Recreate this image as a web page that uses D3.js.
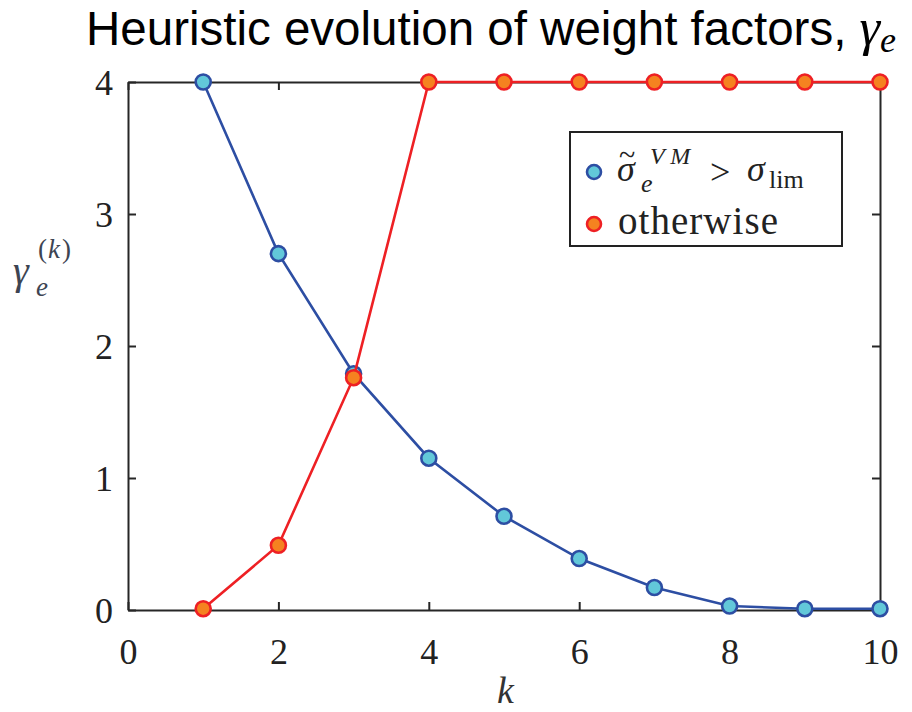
<!DOCTYPE html>
<html>
<head>
<meta charset="utf-8">
<script src="https://cdn.jsdelivr.net/npm/d3@7"></script>
<style>
  html, body { margin: 0; padding: 0; background: #fff; }
  svg { display: block; }
</style>
</head>
<body>
<svg id="chart" width="912" height="712"></svg>
<script>
// Iterations k and the two weight-factor histories
const iterations = [1, 2, 3, 4, 5, 6, 7, 8, 9, 10];
const gammaAboveLimit = [4, 2.70, 1.79, 1.15, 0.71, 0.39, 0.17, 0.03, 0.01, 0.01];
const gammaOtherwise = [0.01, 0.49, 1.76, 4, 4, 4, 4, 4, 4, 4];
const xTicks = [0, 2, 4, 6, 8, 10];
const yTicks = [0, 1, 2, 3, 4];

const svg = d3.select("#chart");
const margin = { left: 128, right: 32, top: 82, bottom: 102 };
const W = 912, H = 712;

const x = d3.scaleLinear().domain([0, 10]).range([margin.left, W - margin.right]);
const y = d3.scaleLinear().domain([0, 4]).range([H - margin.bottom, margin.top]);

const serif = "'Liberation Serif', 'DejaVu Serif', serif";
const tickLen = 8;
const tickFont = 36;

// Title
const title = svg.append("text")
  .attr("x", 86).attr("y", 45)
  .attr("font-family", "'Liberation Sans', Arial, sans-serif")
  .attr("font-size", 47.5)
  .attr("fill", "#000");
title.append("tspan").text("Heuristic evolution of weight factors, ");
title.append("tspan").attr("font-family", serif).attr("font-style", "italic")
  .attr("font-size", 52).text("γ");
title.append("tspan").attr("font-family", serif).attr("font-style", "italic")
  .attr("font-size", 36).attr("dy", 7).text("e");

// Axes (box with inward ticks on all four sides)
const axisColor = "#262626";
const gAxes = svg.append("g");
const fmt = d3.format("d");

const axBottom = gAxes.append("g").attr("transform", `translate(0,${y(0)})`)
  .call(d3.axisBottom(x).tickValues(xTicks).tickFormat(fmt).tickSizeInner(-tickLen).tickSizeOuter(0).tickPadding(28));
const axTop = gAxes.append("g").attr("transform", `translate(0,${y(4)})`)
  .call(d3.axisTop(x).tickValues(xTicks).tickSizeInner(-tickLen).tickSizeOuter(0).tickFormat(""));
const axLeft = gAxes.append("g").attr("transform", `translate(${x(0)},0)`)
  .call(d3.axisLeft(y).tickValues(yTicks).tickFormat(fmt).tickSizeInner(-tickLen).tickSizeOuter(0).tickPadding(15));
const axRight = gAxes.append("g").attr("transform", `translate(${x(10)},0)`)
  .call(d3.axisRight(y).tickValues(yTicks).tickSizeInner(-tickLen).tickSizeOuter(0).tickFormat(""));

[axBottom, axTop, axLeft, axRight].forEach(g => {
  g.select(".domain").attr("stroke", axisColor).attr("stroke-width", 2);
  g.selectAll(".tick line").attr("stroke", axisColor).attr("stroke-width", 2);
  g.selectAll(".tick text").attr("font-family", serif).attr("font-size", tickFont).attr("fill", "#222");
});
axBottom.selectAll(".tick text").attr("dy", "0.71em");
axLeft.selectAll(".tick text").attr("dy", "0.34em");

// Axis labels
svg.append("text")
  .attr("x", 497).attr("y", 703)
  .attr("font-family", serif).attr("font-style", "italic").attr("font-size", 38)
  .attr("fill", "#333").text("k");

// gamma_e^(k), built as one text with positioned pieces
const yl = svg.append("text").attr("font-family", serif).attr("font-style", "italic").attr("fill", "#3d4452");
yl.append("tspan").attr("x", 13).attr("y", 284).attr("font-size", 40).text("γ");
yl.append("tspan").attr("x", 36).attr("y", 296).attr("font-size", 27).text("e");
yl.append("tspan").attr("x", 38).attr("y", 258).attr("font-size", 27).attr("font-style", "normal").text("(");
yl.append("tspan").attr("x", 48).attr("y", 258).attr("font-size", 27).text("k");
yl.append("tspan").attr("x", 62).attr("y", 258).attr("font-size", 27).attr("font-style", "normal").text(")");

// Series
const series = [
  { values: gammaAboveLimit, line: "#2d4ea3", fill: "#62c8d9" },
  { values: gammaOtherwise, line: "#ee2024", fill: "#f58220" }
];

const line = d3.line().x(d => x(d[0])).y(d => y(d[1]));

series.forEach(s => {
  const pts = iterations.map((k, i) => [k, s.values[i]]);
  const g = svg.append("g");
  g.append("path").datum(pts)
    .attr("d", line).attr("fill", "none")
    .attr("stroke", s.line).attr("stroke-width", 2.6);
  g.selectAll("circle").data(pts).join("circle")
    .attr("cx", d => x(d[0])).attr("cy", d => y(d[1])).attr("r", 7.5)
    .attr("fill", s.fill).attr("stroke", s.line).attr("stroke-width", 2.6);
});

// Legend
const lg = svg.append("g");
lg.append("rect").attr("x", 570).attr("y", 132).attr("width", 272).attr("height", 114)
  .attr("fill", "#fff").attr("stroke", "#222").attr("stroke-width", 2);

lg.append("circle").attr("cx", 594).attr("cy", 172).attr("r", 7)
  .attr("fill", series[0].fill).attr("stroke", series[0].line).attr("stroke-width", 2.6);
lg.append("circle").attr("cx", 594).attr("cy", 224).attr("r", 7)
  .attr("fill", series[1].fill).attr("stroke", series[1].line).attr("stroke-width", 2.6);

// legend label: tilde sigma_e^VM > sigma_lim, one text with positioned pieces
const lt = lg.append("text").attr("font-family", serif).attr("fill", "#222");
lt.append("tspan").attr("x", 617).attr("y", 181).attr("font-size", 36).attr("font-style", "italic").text("σ");
lt.append("tspan").attr("x", 619).attr("y", 165).attr("font-size", 30).text("~");
lt.append("tspan").attr("x", 641).attr("y", 192).attr("font-size", 26).attr("font-style", "italic").text("e");
lt.append("tspan").attr("x", 650).attr("y", 164).attr("font-size", 24).attr("font-style", "italic").text("V M");
lt.append("tspan").attr("x", 710).attr("y", 184).attr("font-size", 36).text(">");
lt.append("tspan").attr("x", 747).attr("y", 181).attr("font-size", 36).attr("font-style", "italic").text("σ");
lt.append("tspan").attr("x", 769).attr("y", 188).attr("font-size", 26).text("lim");

lg.append("text").attr("x", 618).attr("y", 234)
  .attr("font-family", serif).attr("font-size", 39).attr("fill", "#222")
  .attr("textLength", 160).text("otherwise");
</script>
</body>
</html>
